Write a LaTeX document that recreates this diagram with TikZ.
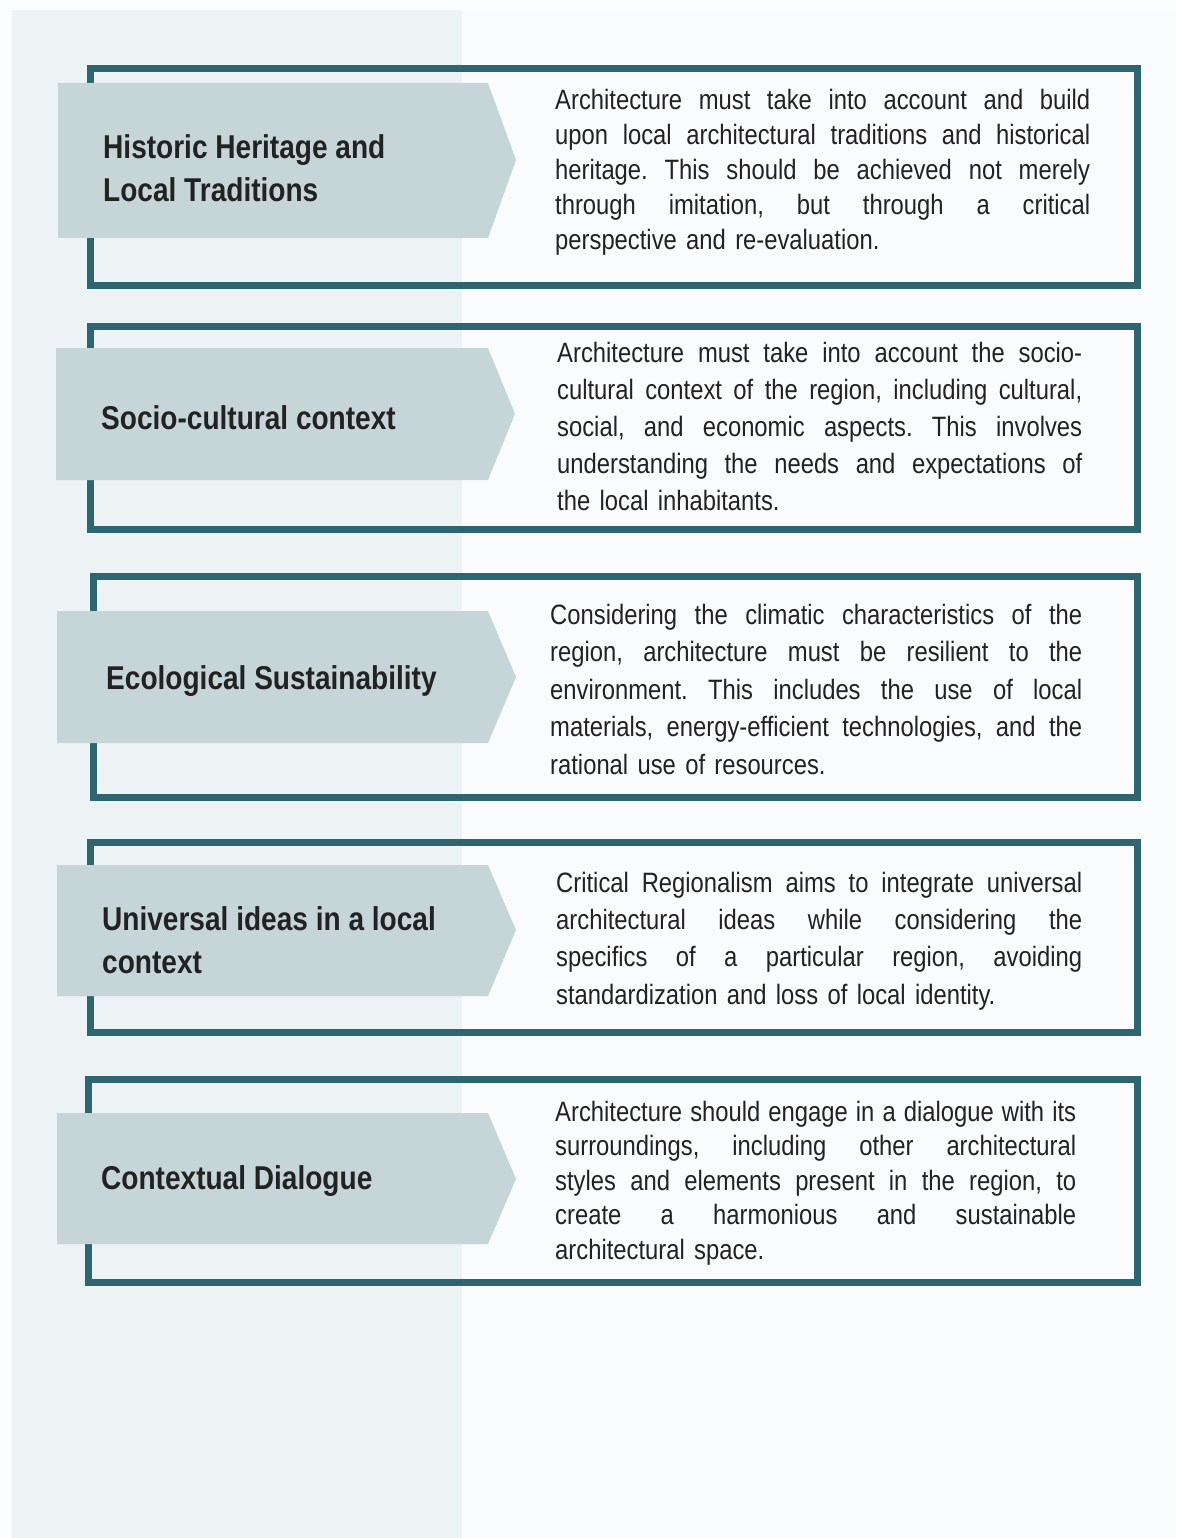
\documentclass[tikz,border=0pt]{standalone}
\usepackage{fontspec}
\newfontfamily\bodyfont{Liberation Sans}[FakeStretch=0.85]
\frenchspacing
% one line set flush to both sides of the text column
\newlength\notewidth
\newcommand\fullline[1]{\noindent\hbox to \notewidth{%
  \spaceskip=0.23em plus 1fil minus 0.08em\relax #1}}

\definecolor{frameteal}{HTML}{2D6570}
\definecolor{tabgrey}{HTML}{C6D6D8}
\definecolor{panelleft}{HTML}{EDF2F4}
\definecolor{panelright}{HTML}{F9FBFC}
\definecolor{pagebg}{HTML}{FCFDFE}
\definecolor{inkdark}{HTML}{222222}

\tikzset{
  rowframe/.style={draw=frameteal, line width=7pt},
  tabshape/.style={fill=tabgrey},
  heading/.style={anchor=west, inner sep=0pt, align=left, text=inkdark,
    font=\bodyfont\bfseries\fontsize{33}{43}\selectfont},
  bodytext/.style={anchor=west, inner sep=0pt, align=left, text=inkdark,
    text width=\notewidth, font=\bodyfont\fontsize{28}{#1}\selectfont},
}

\begin{document}
\begin{tikzpicture}[x=1pt,y=-1pt]
  \useasboundingbox (0,0) rectangle (1176,1538);
  % page and the two background panels
  \fill[pagebg] (0,0) rectangle (1176,1538);
  \fill[panelleft] (12,10) rectangle (462,1538);
  \fill[panelright] (462,10) rectangle (1176,1538);

  % row 1
  \draw[rowframe] (90,69) rectangle (1137,285);
  \fill[tabshape] (58,83) -- (488,83) -- (516,160) -- (488,238) -- (58,238) -- cycle;
  \node[heading] (h1) at (103,168) {Historic Heritage and\\Local Traditions};
  \setlength\notewidth{535pt}
  \node[bodytext=35] (d1) at (555,172)
    {\fullline{Architecture must take into account and build}\\
     \fullline{upon local architectural traditions and historical}\\
     \fullline{heritage. This should be achieved not merely}\\
     \fullline{through imitation, but through a critical}\\
     perspective and re-evaluation.};

  % row 2
  \draw[rowframe] (90,326) rectangle (1137,529);
  \fill[tabshape] (56,348) -- (488,348) -- (515,414) -- (488,480) -- (56,480) -- cycle;
  \node[heading] (h2) at (101,418) {Socio-cultural context};
  \setlength\notewidth{525pt}
  \node[bodytext=37] (d2) at (557,426)
    {\fullline{Architecture must take into account the socio-}\\
     \fullline{cultural context of the region, including cultural,}\\
     \fullline{social, and economic aspects. This involves}\\
     \fullline{understanding the needs and expectations of}\\
     the local inhabitants.};

  % row 3
  \draw[rowframe] (93,576) rectangle (1137,797);
  \fill[tabshape] (57,611) -- (488,611) -- (516,677) -- (488,743) -- (57,743) -- cycle;
  \node[heading] (h3) at (106,681) {Ecological Sustainability};
  \setlength\notewidth{532pt}
  \node[bodytext=37.5] (d3) at (550,689)
    {\fullline{Considering the climatic characteristics of the}\\
     \fullline{region, architecture must be resilient to the}\\
     \fullline{environment. This includes the use of local}\\
     \fullline{materials, energy-efficient technologies, and the}\\
     rational use of resources.};

  % row 4
  \draw[rowframe] (90,842) rectangle (1137,1032);
  \fill[tabshape] (57,865) -- (488,865) -- (516,930) -- (488,996) -- (57,996) -- cycle;
  \node[heading] (h4) at (102,940) {Universal ideas in a local\\context};
  \setlength\notewidth{526pt}
  \node[bodytext=37.3] (d4) at (556,941)
    {\fullline{Critical Regionalism aims to integrate universal}\\
     \fullline{architectural ideas while considering the}\\
     \fullline{specifics of a particular region, avoiding}\\
     standardization and loss of local identity.};

  % row 5
  \draw[rowframe] (88,1079) rectangle (1137,1282);
  \fill[tabshape] (57,1113) -- (488,1113) -- (516,1179) -- (488,1244) -- (57,1244) -- cycle;
  \node[heading] (h5) at (101,1181) {Contextual Dialogue};
  \setlength\notewidth{521pt}
  \node[bodytext=34.5] (d5) at (555,1183)
    {\fullline{Architecture should engage in a dialogue with its}\\
     \fullline{surroundings, including other architectural}\\
     \fullline{styles and elements present in the region, to}\\
     \fullline{create a harmonious and sustainable}\\
     architectural space.};
\end{tikzpicture}
\end{document}
